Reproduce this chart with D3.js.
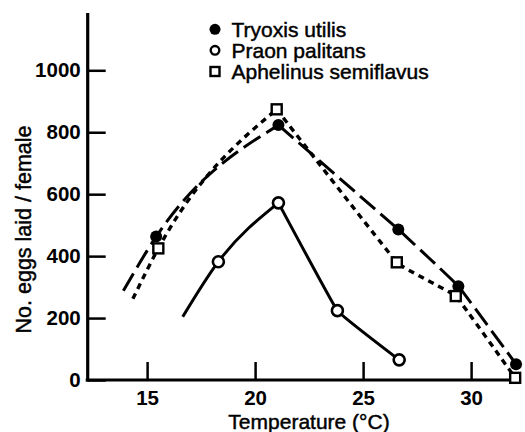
<!DOCTYPE html>
<html>
<head>
<meta charset="utf-8">
<script src="https://cdn.jsdelivr.net/npm/d3@7"></script>
<style>
  html, body { margin: 0; padding: 0; background: #fff; }
  svg { display: block; }
  text { font-family: "Liberation Sans", Arial, Helvetica, sans-serif; fill: #000; }
  .heavy { stroke: #000; stroke-width: 0.45px; }
</style>
</head>
<body>
<svg id="chart" width="525" height="432"></svg>
<script>
// ---- data ----
const seriesNames = ["Tryoxis utilis", "Praon palitans", "Aphelinus semiflavus"];

const tryoxisTemp = [15.42, 21.08, 26.63, 29.41, 32.08];
const tryoxisEggs = [463, 823, 486, 303, 51];
const tryoxisLineStart = [13.9, 288];

const praonTemp = [18.3, 21.08, 23.81, 26.67];
const praonEggs = [382, 572, 224, 65];
const praonLineStart = [16.65, 204];

const aphelinusTemp = [15.52, 21.0, 26.56, 29.29, 32.04];
const aphelinusEggs = [425, 874, 380, 271, 7];
const aphelinusLineStart = [14.34, 262];

const xTicks = [15, 20, 25, 30];
const yTicks = [0, 200, 400, 600, 800, 1000];

const xTitle = "Temperature (°C)";
const yTitle = "No. eggs laid / female";

// ---- layout ----
const svg = d3.select("#chart");
const x = d3.scaleLinear().domain([12.25, 32.31]).range([87.7, 521]);
const y = d3.scaleLinear().domain([0, 1000]).range([380, 70.3]);
const yTop = y.invert(13);

const pts = (t, e) => t.map((d, i) => [d, e[i]]);
const lineAsc = d3.line().x(d => x(d[0])).y(d => y(d[1])).curve(d3.curveMonotoneX);
const lineDesc = d3.line().x(d => x(d[0])).y(d => y(d[1])).curve(d3.curveCardinal.tension(0.8));
// rising arc up to the peak, nearly straight fall after it
function curvePath(points) {
  const k = d3.maxIndex(points, d => d[1]);
  return lineAsc(points.slice(0, k + 1)) + lineDesc(points.slice(k));
}

// axes
const xAxis = d3.axisBottom(x).tickValues(xTicks).tickSizeInner(-18).tickSizeOuter(0).tickPadding(10);
const gx = svg.append("g").attr("transform", `translate(0,${y(0)})`).call(xAxis);
gx.select(".domain").remove();
gx.selectAll(".tick line").attr("stroke", "#000").attr("stroke-width", 2.5);
gx.selectAll(".tick text").attr("font-size", 20.5).attr("font-weight", "bold")
  .attr("font-family", "Liberation Sans, Arial, sans-serif");

const yAxis = d3.axisLeft(y).tickValues(yTicks).tickFormat(d3.format("d"))
  .tickSizeInner(-18).tickSizeOuter(0).tickPadding(7);
const gy = svg.append("g").attr("transform", `translate(${x(12.25)},0)`).call(yAxis);
gy.select(".domain").remove();
gy.selectAll(".tick line").attr("stroke", "#000").attr("stroke-width", 2.5);
gy.selectAll(".tick text").attr("font-size", 20.5).attr("font-weight", "bold")
  .attr("font-family", "Liberation Sans, Arial, sans-serif");

// axis lines
svg.append("line").attr("x1", x(12.25) - 2).attr("x2", x.range()[1])
  .attr("y1", y(0)).attr("y2", y(0)).attr("stroke", "#000").attr("stroke-width", 3.2);
svg.append("line").attr("x1", x(12.25)).attr("x2", x(12.25))
  .attr("y1", y(yTop)).attr("y2", y(0) + 1.5).attr("stroke", "#000").attr("stroke-width", 3.2);

// titles
svg.append("text").attr("class", "heavy").attr("x", 309).attr("y", 429).attr("text-anchor", "middle")
  .attr("font-size", 21).text(xTitle);
svg.append("text").attr("class", "heavy").attr("transform", `translate(31,${229.5}) rotate(-90)`)
  .attr("text-anchor", "middle").attr("font-size", 21.5).text(yTitle);

// lines
const tryoxisPts = pts(tryoxisTemp, tryoxisEggs);
const praonPts = pts(praonTemp, praonEggs);
const aphelinusPts = pts(aphelinusTemp, aphelinusEggs);

svg.append("path").attr("d", curvePath([tryoxisLineStart, ...tryoxisPts]))
  .attr("fill", "none").attr("stroke", "#000").attr("stroke-width", 3)
  .attr("stroke-dasharray", "20,7");
svg.append("path").attr("d", curvePath([aphelinusLineStart, ...aphelinusPts]))
  .attr("fill", "none").attr("stroke", "#000").attr("stroke-width", 3.4)
  .attr("stroke-dasharray", "6,5");
svg.append("path").attr("d", curvePath([praonLineStart, ...praonPts]))
  .attr("fill", "none").attr("stroke", "#000").attr("stroke-width", 3)
  .attr("stroke-linejoin", "round");

// markers
svg.append("g").selectAll("circle").data(tryoxisPts).join("circle")
  .attr("cx", d => x(d[0])).attr("cy", d => y(d[1])).attr("r", 6).attr("fill", "#000");
svg.append("g").selectAll("circle").data(praonPts).join("circle")
  .attr("cx", d => x(d[0])).attr("cy", d => y(d[1])).attr("r", 5.5)
  .attr("fill", "#fff").attr("stroke", "#000").attr("stroke-width", 2.6);
svg.append("g").selectAll("rect").data(aphelinusPts).join("rect")
  .attr("x", d => x(d[0]) - 5).attr("y", d => y(d[1]) - 5).attr("width", 10).attr("height", 10)
  .attr("fill", "#fff").attr("stroke", "#000").attr("stroke-width", 2.4);

// legend
const legY = [29.3, 50.3, 71.5];
const lg = svg.append("g");
lg.append("circle").attr("cx", 215).attr("cy", legY[0]).attr("r", 5.5).attr("fill", "#000");
lg.append("circle").attr("cx", 215).attr("cy", legY[1]).attr("r", 4.3)
  .attr("fill", "#fff").attr("stroke", "#000").attr("stroke-width", 2.4);
lg.append("rect").attr("x", 215 - 4.5).attr("y", legY[2] - 4.5).attr("width", 9).attr("height", 9)
  .attr("fill", "#fff").attr("stroke", "#000").attr("stroke-width", 2.4);
lg.selectAll("text").data(seriesNames).join("text").attr("class", "heavy")
  .attr("x", 231.5).attr("y", (d, i) => legY[i]).attr("dy", "0.36em")
  .attr("font-size", 21).text(d => d);
</script>
</body>
</html>
